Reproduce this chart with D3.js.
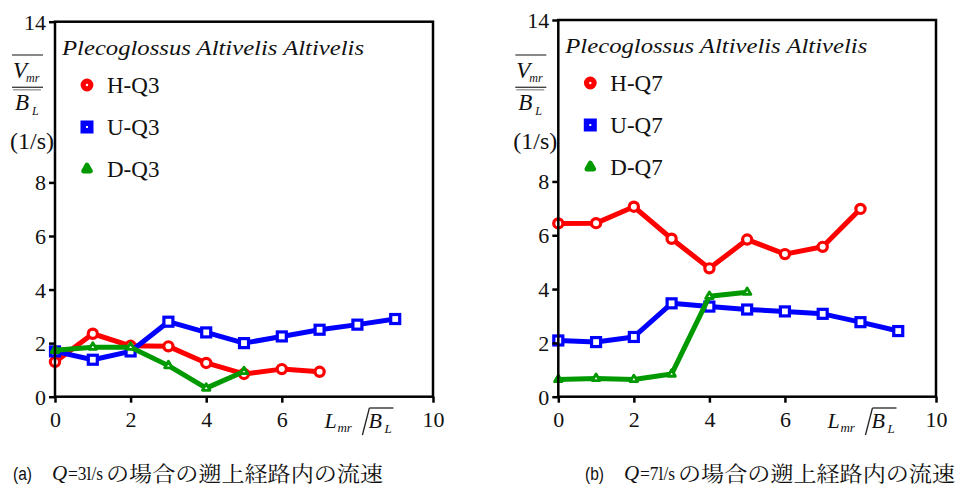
<!DOCTYPE html>
<html>
<head>
<meta charset="utf-8">
<script src="https://cdn.jsdelivr.net/npm/d3@7"></script>
<style>
  html, body { margin: 0; padding: 0; background: #fff; }
  svg { display: block; }
</style>
</head>
<body>
<svg id="chart" width="970" height="496"></svg>
<script>
// Position along the route (L_mr / B_L)
const positions = [0, 1, 2, 3, 4, 5, 6, 7, 8, 9];

// Q = 3 l/s
const hQ3 = [1.3, 2.35, 1.9, 1.88, 1.26, 0.85, 1.03, 0.93];
const uQ3 = [1.69, 1.38, 1.69, 2.8, 2.4, 2.0, 2.25, 2.5, 2.69, 2.9];
const dQ3 = [1.73, 1.85, 1.85, 1.16, 0.32, 0.94];

// Q = 7 l/s
const hQ7 = [6.44, 6.45, 7.06, 5.87, 4.77, 5.84, 5.3, 5.57, 6.98];
const uQ7 = [2.09, 2.03, 2.22, 3.47, 3.35, 3.24, 3.17, 3.08, 2.77, 2.44];
const dQ7 = [0.64, 0.68, 0.64, 0.84, 3.73, 3.88];

const yTicks = [0, 2, 4, 6, 8, 14];
const xTicks = [0, 2, 4, 6, 10];
const speciesName = "Plecoglossus Altivelis Altivelis";
const captionJa = "の場合の遡上経路内の流速";

const RED = "#ff0000", BLUE = "#0000ff", GREEN = "#009900";
const SERIF = "'Liberation Serif'";
const SANS = "'Liberation Sans'";
const JA = "'Noto Serif CJK JP'";

const svg = d3.select("#chart");

// text helper: family, size, optional italic
function txt(parent, x, y, str, size, family, italic) {
  return parent.append("text")
    .attr("x", x).attr("y", y)
    .style("font-family", family || SERIF)
    .style("font-size", size + "px")
    .style("font-style", italic ? "italic" : "normal")
    .style("fill", "#111")
    .text(str);
}

function drawMarker(parent, shape, cx, cy, color, legend) {
  if (shape === "circle") {
    parent.append("circle").attr("cx", cx).attr("cy", cy)
      .attr("r", legend ? 3.8 : 4.6)
      .attr("fill", "#fff").attr("stroke", color).attr("stroke-width", legend ? 5.2 : 3.2);
  } else if (shape === "square") {
    const s = legend ? 7.5 : 9;
    parent.append("rect").attr("x", cx - s / 2).attr("y", cy - s / 2)
      .attr("width", s).attr("height", s)
      .attr("fill", "#fff").attr("stroke", color).attr("stroke-width", legend ? 5.5 : 3.2);
  } else {
    const side = legend ? 6.5 : 7.5;
    const area = Math.sqrt(3) / 4 * side * side;
    parent.append("path").attr("d", d3.symbol(d3.symbolTriangle, area)())
      .attr("transform", `translate(${cx},${cy})`)
      .attr("fill", "#fff").attr("stroke", color)
      .attr("stroke-width", legend ? 5 : 2.8).attr("stroke-linejoin", "round");
  }
}

function drawPanel(opt) {
  const x = d3.scaleLinear().domain([0, 10]).range([opt.left, opt.right]);
  const y = d3.scaleLinear().domain([0, 14]).range([opt.bottom, opt.top]);
  const g = svg.append("g");

  // series: lines then markers, red below blue below green
  const series = [
    { name: "H-" + opt.q, values: opt.h, color: RED, shape: "circle" },
    { name: "U-" + opt.q, values: opt.u, color: BLUE, shape: "square" },
    { name: "D-" + opt.q, values: opt.d, color: GREEN, shape: "triangle" }
  ];

  const line = d3.line().x(d => x(d[0])).y(d => y(d[1]));

  series.forEach(s => {
    const pts = s.values.map((v, i) => [positions[i], v]);
    g.append("path")
      .attr("d", line(pts))
      .attr("fill", "none")
      .attr("stroke", s.color)
      .attr("stroke-width", 5)
      .attr("stroke-linejoin", "round");
    const m = g.append("g");
    pts.forEach(p => drawMarker(m, s.shape, x(p[0]), y(p[1]), s.color, false));
  });

  // frame
  g.append("rect")
    .attr("x", opt.left).attr("y", opt.top)
    .attr("width", opt.right - opt.left).attr("height", opt.bottom - opt.top)
    .attr("fill", "none").attr("stroke", "#000").attr("stroke-width", 2.5);

  // y axis
  const ya = g.append("g").attr("transform", `translate(${opt.left},0)`)
    .call(d3.axisLeft(y).tickValues(yTicks).tickSize(6).tickSizeOuter(0).tickPadding(3));
  ya.attr("font-family", null).attr("font-size", null);
  ya.select(".domain").remove();
  ya.selectAll("line").attr("stroke", "#000").attr("stroke-width", 2.5);
  ya.selectAll("text").attr("dy", "0.34em")
    .style("font-family", SERIF).style("font-size", "22px").style("fill", "#111");

  // x axis
  const xa = g.append("g").attr("transform", `translate(0,${opt.bottom})`)
    .call(d3.axisBottom(x).tickValues(xTicks).tickSize(6).tickSizeOuter(0).tickPadding(9));
  xa.attr("font-family", null).attr("font-size", null);
  xa.select(".domain").remove();
  xa.selectAll("line").attr("stroke", "#000").attr("stroke-width", 2.5);
  xa.selectAll("text")
    .style("font-family", SERIF).style("font-size", "22px").style("fill", "#111");

  // y axis title: overline(V_mr) / overline(B_L)  (1/s)
  const L = opt.left;
  const yt = g.append("g");
  yt.append("line").attr("x1", L - 43).attr("x2", L - 12).attr("y1", 55).attr("y2", 55)
    .attr("stroke", "#555").attr("stroke-width", 1.4);
  txt(yt, L - 42, 78, "V", 23, SERIF, true);
  txt(yt, L - 29, 82, "mr", 12, SERIF, true);
  yt.append("line").attr("x1", L - 43).attr("x2", L - 12).attr("y1", 87.3).attr("y2", 87.3)
    .attr("stroke", "#444").attr("stroke-width", 1.4);
  yt.append("line").attr("x1", L - 42).attr("x2", L - 14).attr("y1", 89.8).attr("y2", 89.8)
    .attr("stroke", "#999").attr("stroke-width", 1.4);
  txt(yt, L - 40, 110, "B", 23, SERIF, true);
  txt(yt, L - 23, 115, "L", 12, SERIF, true);
  txt(yt, L - 45, 149, "(1/s)", 24, SERIF, false);

  // x axis title: L_mr / overline(B_L), placed in the slot of tick 8
  const xt = g.append("g");
  const bx = x(8);
  txt(xt, bx - 33, 428, "L", 22, SERIF, true);
  txt(xt, bx - 20, 432, "mr", 13, SERIF, true);
  xt.append("line").attr("x1", bx + 5).attr("y1", 435).attr("x2", bx + 12).attr("y2", 408)
    .attr("stroke", "#222").attr("stroke-width", 1.3);
  xt.append("line").attr("x1", bx + 12).attr("y1", 408).attr("x2", bx + 36).attr("y2", 408)
    .attr("stroke", "#222").attr("stroke-width", 1.3);
  txt(xt, bx + 11, 428, "B", 22, SERIF, true);
  txt(xt, bx + 27, 433, "L", 13, SERIF, true);

  // legend
  const dy = opt.legendDy;
  const lg = g.append("g");
  txt(lg, L + 7, 55 + dy, speciesName, 21, SERIF, true)
    .attr("textLength", 302).attr("lengthAdjust", "spacingAndGlyphs");
  series.forEach((s, i) => {
    const cy = 85 + dy + i * 42;
    drawMarker(lg, s.shape, L + 32, cy, s.color, true);
    txt(lg, L + 52, cy + 8, s.name, 23, SERIF, false);
  });

  // caption
  const cap = svg.append("g");
  const c = opt.captionX;
  txt(cap, c, 480, opt.tag, 18, SANS, false)
    .attr("textLength", 19).attr("lengthAdjust", "spacingAndGlyphs");
  txt(cap, c + 39, 480, "Q", 21, SERIF, true);
  txt(cap, c + 55, 480, opt.flow, 19, SERIF, false)
    .attr("textLength", 35).attr("lengthAdjust", "spacingAndGlyphs");
  txt(cap, c + 93, 481, captionJa, 21, JA, false)
    .attr("textLength", 277).attr("lengthAdjust", "spacingAndGlyphs");
}

drawPanel({ left: 55, right: 433, top: 21.7, bottom: 396.7, q: "Q3",
  h: hQ3, u: uQ3, d: dQ3, legendDy: 0, captionX: 13, tag: "(a)", flow: "=3l/s" });
drawPanel({ left: 558.3, right: 936, top: 20, bottom: 396.7, q: "Q7",
  h: hQ7, u: uQ7, d: dQ7, legendDy: -2, captionX: 585, tag: "(b)", flow: "=7l/s" });
</script>
</body>
</html>
